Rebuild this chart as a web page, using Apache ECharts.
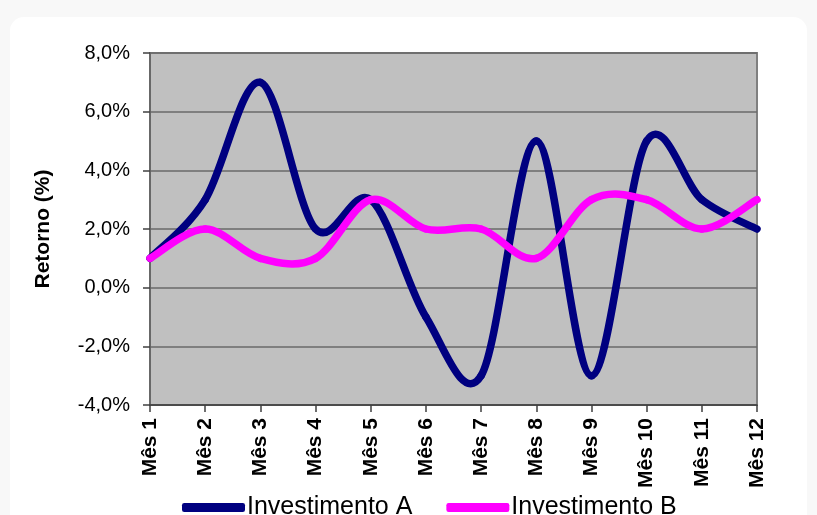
<!DOCTYPE html>
<html>
<head>
<meta charset="utf-8">
<script src="https://cdn.jsdelivr.net/npm/echarts@6/dist/echarts.min.js"></script>
<style>
  html, body { margin: 0; padding: 0; background: #f8f8f8; }
  #frame { position: absolute; left: 10px; top: 17px; width: 797px; height: 520px; background: #fff; border-radius: 14px; }
  #chart { position: absolute; left: 0; top: 0; width: 817px; height: 515px; }
</style>
</head>
<body>
<div id="frame"></div>
<div id="chart"></div>
<script>
var meses = ['Mês 1', 'Mês 2', 'Mês 3', 'Mês 4', 'Mês 5', 'Mês 6', 'Mês 7', 'Mês 8', 'Mês 9', 'Mês 10', 'Mês 11', 'Mês 12'];
var investA = [1.0, 3.0, 7.0, 2.0, 3.0, -1.0, -3.0, 5.0, -3.0, 5.0, 3.0, 2.0];
var investB = [1.0, 2.0, 1.0, 1.0, 3.0, 2.0, 2.0, 1.0, 3.0, 3.0, 2.0, 3.0];

var chart = echarts.init(document.getElementById('chart'));
var font = '"Liberation Sans", Arial, sans-serif';

// curva suave estilo Excel (Catmull-Rom) desenhada segmento a segmento
function curva(values, color) {
    return function (params, api) {
        var i = params.dataIndex;
        var n = values.length;
        if (i >= n - 1) return null;
        function p(k) {
            k = Math.max(0, Math.min(n - 1, k));
            return api.coord([k, values[k]]);
        }
        var p0 = p(i - 1), p1 = p(i), p2 = p(i + 1), p3 = p(i + 2);
        var c1 = [p1[0] + (p2[0] - p0[0]) / 6, p1[1] + (p2[1] - p0[1]) / 6];
        var c2 = [p2[0] - (p3[0] - p1[0]) / 6, p2[1] - (p3[1] - p1[1]) / 6];
        return {
            type: 'path',
            shape: { pathData: 'M' + p1[0] + ' ' + p1[1] + ' C' + c1[0] + ' ' + c1[1] + ' ' + c2[0] + ' ' + c2[1] + ' ' + p2[0] + ' ' + p2[1] },
            style: { fill: null, stroke: color, lineWidth: 7.5, lineCap: 'round', lineJoin: 'round' }
        };
    };
}

chart.setOption({
    animation: false,
    textStyle: { fontFamily: font },
    grid: {
        left: 150, right: 60, top: 53, bottom: 110,
        show: true, backgroundColor: '#c0c0c0', borderColor: '#808080', borderWidth: 2
    },
    legend: {
        left: 177, top: 490,
        itemWidth: 63, itemHeight: 9, itemGap: 34,
        icon: 'roundRect',
        textStyle: { fontSize: 25, color: '#000', fontFamily: font, padding: [0, 0, 0, -3] },
        data: ['Investimento A', 'Investimento B']
    },
    xAxis: [{
        type: 'category', data: meses, boundaryGap: false,
        axisLine: { show: false }, axisTick: { show: false },
        axisLabel: { rotate: 90, margin: 13, fontSize: 21, fontWeight: 'bold', color: '#000', interval: 0 }
    }, {
        type: 'category', data: meses, boundaryGap: false, position: 'bottom',
        axisLine: { onZero: true, lineStyle: { color: '#404040', width: 1.5 } },
        axisTick: { show: true, length: 7, interval: 0, lineStyle: { color: '#404040', width: 1.5 } },
        axisLabel: { show: false }
    }],
    yAxis: {
        type: 'value', min: -4, max: 8, interval: 2,
        name: 'Retorno (%)', nameLocation: 'middle', nameGap: 96, nameRotate: 90,
        nameTextStyle: { fontSize: 21, fontWeight: 'bold', color: '#000' },
        axisLine: { show: true, lineStyle: { color: '#606060', width: 1.5 } },
        axisTick: { show: true, length: 7, lineStyle: { color: '#404040', width: 1.5 } },
        axisLabel: {
            margin: 20, fontSize: 20, color: '#000',
            formatter: function (v) { return v.toFixed(1).replace('.', ',') + '%'; }
        },
        splitLine: { lineStyle: { color: '#6a6a6a', width: 1.5 } }
    },
    series: [{
        name: 'Investimento A', type: 'custom', xAxisIndex: 0,
        data: investA.map(function (v, i) { return [i, v]; }),
        encode: { x: 0, y: 1 },
        itemStyle: { color: '#000080' },
        renderItem: curva(investA, '#000080')
    }, {
        name: 'Investimento B', type: 'custom', xAxisIndex: 0,
        data: investB.map(function (v, i) { return [i, v]; }),
        encode: { x: 0, y: 1 },
        itemStyle: { color: '#ff00ff' },
        renderItem: curva(investB, '#ff00ff')
    }]
});
</script>
</body>
</html>
